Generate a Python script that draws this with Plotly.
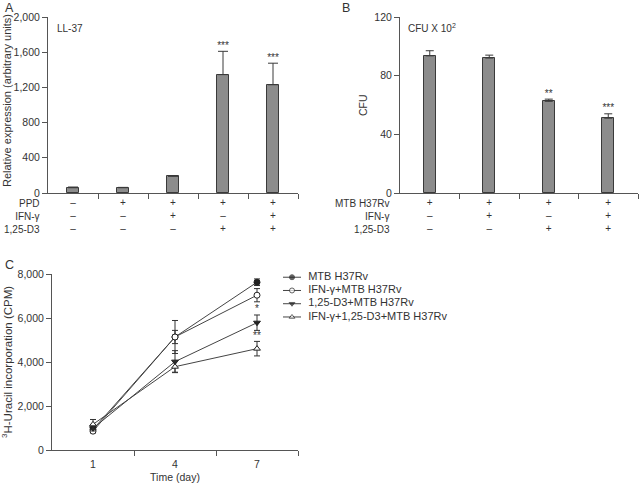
import plotly.graph_objects as go

W, H = 639, 484

# ---------------- Panel A data ----------------
a_values = [60, 60, 190, 1345, 1230]
a_errors = [8, 4, 4, 265, 245]
a_sig = ["", "", "", "***", "***"]
a_ppd = ["–", "+", "+", "+", "+"]
a_ifn = ["–", "–", "+", "–", "+"]
a_d3 = ["–", "–", "–", "+", "+"]
a_rows = ["PPD", "IFN-γ", "1,25-D3"]
a_yticks = [0, 400, 800, 1200, 1600, 2000]

# ---------------- Panel B data ----------------
b_values = [93.5, 92, 62.5, 51]
b_errors = [3.5, 2, 1.5, 3]
b_sig = ["", "", "**", "***"]
b_mtb = ["+", "+", "+", "+"]
b_ifn = ["–", "+", "–", "+"]
b_d3 = ["–", "–", "+", "+"]
b_rows = ["MTB H37Rv", "IFN-γ", "1,25-D3"]
b_yticks = [0, 40, 80, 120]

# ---------------- Panel C data ----------------
c_days = [1, 4, 7]
c_names = ["MTB H37Rv", "IFN-γ+MTB H37Rv", "1,25-D3+MTB H37Rv", "IFN-γ+1,25-D3+MTB H37Rv"]
c_mtb = [950, 5150, 7640]
c_mtb_err = [100, 750, 150]
c_ifn = [870, 5150, 7050]
c_ifn_err = [80, 300, 300]
c_d3 = [1000, 4030, 5800]
c_d3_err = [120, 500, 350]
c_ifn_d3 = [1180, 3800, 4620]
c_ifn_d3_err = [220, 250, 330]
c_sig = ["", "", "*", "**"]
c_yticks = [0, 2000, 4000, 6000, 8000]

TXT = "#333333"
LINE = "#555555"
BAR = "#8c8c8c"
BAR_LINE = "#3a3a3a"
FONT = "Liberation Sans, Arial, sans-serif"


def px_x(p):
    return p / W


def px_y(p):
    return 1 - p / H


def col_text(*rows):
    return ["<br>".join(r[i] for r in rows) for i in range(len(rows[0]))]


def nonempty(xs, ys, texts):
    keep = [i for i, t in enumerate(texts) if t]
    return [xs[i] for i in keep], [ys[i] for i in keep], [texts[i] for i in keep]


fig = go.Figure()

# ---- Panel A bars ----
a_x = list(range(len(a_values)))
fig.add_trace(go.Bar(
    x=a_x, y=a_values, width=0.24,
    marker=dict(color=BAR, line=dict(color=BAR_LINE, width=1)),
    error_y=dict(type="data", array=a_errors, arrayminus=[0] * len(a_errors),
                 symmetric=False, color=BAR_LINE, thickness=1, width=5),
    xaxis="x", yaxis="y", showlegend=False))
sx, sy, st = nonempty(a_x, [v + e for v, e in zip(a_values, a_errors)], a_sig)
fig.add_trace(go.Scatter(
    x=sx, y=sy, text=st, mode="text", textposition="top center", cliponaxis=False,
    textfont=dict(size=10, color=TXT), xaxis="x", yaxis="y", showlegend=False))

# ---- Panel B bars ----
b_x = list(range(len(b_values)))
fig.add_trace(go.Bar(
    x=b_x, y=b_values, width=0.2,
    marker=dict(color=BAR, line=dict(color=BAR_LINE, width=1)),
    error_y=dict(type="data", array=b_errors, arrayminus=[0] * len(b_errors),
                 symmetric=False, color=BAR_LINE, thickness=1, width=4),
    xaxis="x2", yaxis="y2", showlegend=False))
sx, sy, st = nonempty(b_x, [v + e for v, e in zip(b_values, b_errors)], b_sig)
fig.add_trace(go.Scatter(
    x=sx, y=sy, text=st, mode="text", textposition="top center", cliponaxis=False,
    textfont=dict(size=10, color=TXT), xaxis="x2", yaxis="y2", showlegend=False))

# ---- Panel C lines ----
c_series = [
    (c_mtb, c_mtb_err, dict(symbol="circle", color="#222222", size=6,
                            line=dict(color="#222222", width=1))),
    (c_ifn, c_ifn_err, dict(symbol="circle", color="white", size=6,
                            line=dict(color="#222222", width=1))),
    (c_d3, c_d3_err, dict(symbol="triangle-down", color="#222222", size=6,
                          line=dict(color="#222222", width=1))),
    (c_ifn_d3, c_ifn_d3_err, dict(symbol="triangle-up", color="white", size=6,
                                  line=dict(color="#222222", width=1))),
]
for name, (vals, errs, mk) in zip(c_names, c_series):
    fig.add_trace(go.Scatter(
        x=c_days, y=vals, name=name, mode="lines+markers",
        line=dict(color="#444444", width=1), marker=mk,
        error_y=dict(type="data", array=errs, color="#333333", thickness=1, width=3),
        xaxis="x3", yaxis="y3", showlegend=False))

# significance marks at day 7
last_tops = [s[0][-1] + s[1][-1] for s in c_series]
sx, sy, st = nonempty([c_days[-1]] * len(c_sig), last_tops, c_sig)
fig.add_trace(go.Scatter(
    x=sx, y=sy, text=st, mode="text", textposition="top center", cliponaxis=False,
    textfont=dict(size=10, color=TXT), xaxis="x3", yaxis="y3", showlegend=False))

# ---- custom compact legend for panel C ----
for i, (name, (vals, errs, mk)) in enumerate(zip(c_names, c_series)):
    m = dict(mk)
    m["size"] = [0, 5, 0]
    fig.add_trace(go.Scatter(
        x=[0, 0.5, 1], y=[i, i, i], mode="lines+markers",
        line=dict(color="#444444", width=1), marker=m,
        xaxis="x4", yaxis="y4", showlegend=False, hoverinfo="skip"))
fig.add_trace(go.Scatter(
    x=[1.4] * len(c_names), y=list(range(len(c_names))), text=c_names,
    mode="text", textposition="middle right", cliponaxis=False,
    textfont=dict(size=11, color=TXT), xaxis="x4", yaxis="y4",
    showlegend=False, hoverinfo="skip"))

axis_common = dict(showline=True, linecolor=LINE, linewidth=1, showgrid=False,
                   zeroline=False, tickfont=dict(size=10, color=TXT, family=FONT),
                   tickcolor=LINE)
ytick_font = dict(size=10.5, color=TXT, family=FONT)

fig.update_layout(
    width=W, height=H,
    margin=dict(l=0, r=0, t=0, b=0, autoexpand=False),
    paper_bgcolor="white", plot_bgcolor="white",
    font=dict(family=FONT, size=10, color=TXT),
    showlegend=False,
    bargap=0,
    xaxis=dict(axis_common, domain=[px_x(48), px_x(298)], range=[-0.5, 4.5],
               tickvals=a_x, ticktext=col_text(a_ppd, a_ifn, a_d3), ticks="",
               minor=dict(tickvals=[i + 0.5 for i in a_x], ticks="outside",
                          ticklen=5, tickcolor=LINE),
               anchor="y", ticklabelstandoff=0),
    yaxis=dict(axis_common, domain=[px_y(193), px_y(17)], range=[0, 2000],
               tickvals=a_yticks, tickformat=",", ticks="outside", ticklen=5,
               tickfont=ytick_font, anchor="x"),
    xaxis2=dict(axis_common, domain=[px_x(400), px_x(638)], range=[-0.5, 3.5],
                tickvals=b_x, ticktext=col_text(b_mtb, b_ifn, b_d3), ticks="",
                minor=dict(tickvals=[i + 0.5 for i in b_x], ticks="outside",
                           ticklen=5, tickcolor=LINE),
                anchor="y2", ticklabelstandoff=0),
    yaxis2=dict(axis_common, domain=[px_y(193), px_y(17)], range=[0, 120],
                tickvals=b_yticks, ticks="outside", ticklen=5, tickfont=ytick_font,
                anchor="x2"),
    xaxis3=dict(axis_common, domain=[px_x(52), px_x(298)], range=[-0.5, 8.5],
                tickvals=c_days, ticks="", tickfont=ytick_font,
                minor=dict(tickvals=[2.5, 5.5, 8.5], ticks="outside",
                           ticklen=5, tickcolor=LINE),
                anchor="y3", ticklabelstandoff=4,
                title=dict(text="Time (day)", font=dict(size=10.5, color=TXT), standoff=4)),
    yaxis3=dict(axis_common, domain=[px_y(450.3), px_y(274.3)], range=[0, 8000],
                tickvals=c_yticks, tickformat=",", ticks="outside", ticklen=5,
                tickfont=ytick_font, anchor="x3"),
    xaxis4=dict(domain=[px_x(283), px_x(319)], range=[0, 2], visible=False,
                fixedrange=True, anchor="y4"),
    yaxis4=dict(domain=[px_y(323.6), px_y(270.6)], range=[3.5, -0.5], visible=False,
                fixedrange=True, anchor="x4"),
)

ann = []
# panel letters
for letter, x, y in [("A", 3, -1), ("B", 340, -1), ("C", 3, 256)]:
    ann.append(dict(text=letter, x=px_x(x), y=px_y(y), xref="paper", yref="paper",
                    xanchor="left", yanchor="top", showarrow=False,
                    font=dict(size=12.5, color=TXT)))
# inner titles
ann.append(dict(text="LL-37", x=px_x(55), y=px_y(29), xref="paper", yref="paper",
                xanchor="left", yanchor="middle", showarrow=False, font=dict(size=10, color=TXT)))
ann.append(dict(text="CFU X 10<sup>2</sup>", x=px_x(406), y=px_y(28), xref="paper", yref="paper",
                xanchor="left", yanchor="middle", showarrow=False, font=dict(size=10, color=TXT)))
# y-axis titles
ann.append(dict(text="Relative expression (arbitrary units)", x=px_x(7), y=px_y(101),
                xref="paper", yref="paper", textangle=-90, xanchor="center", yanchor="middle",
                showarrow=False, font=dict(size=11, color=TXT)))
ann.append(dict(text="CFU", x=px_x(363), y=px_y(105),
                xref="paper", yref="paper", textangle=-90, xanchor="center", yanchor="middle",
                showarrow=False, font=dict(size=10.5, color=TXT)))
ann.append(dict(text="<sup>3</sup>H-Uracil incorporation (CPM)", x=px_x(7), y=px_y(362),
                xref="paper", yref="paper", textangle=-90, xanchor="center", yanchor="middle",
                showarrow=False, font=dict(size=11.5, color=TXT)))
# row labels below bar panels
for rows, xr in [(a_rows, 42), (b_rows, 392)]:
    ann.append(dict(text="<br>".join(rows), x=px_x(xr), y=px_y(196), xref="paper", yref="paper",
                    xanchor="right", yanchor="top", align="right", showarrow=False,
                    font=dict(size=10, color=TXT)))
fig.update_layout(annotations=ann)

fig.write_html("out.html", config={"displayModeBar": False},
               post_script="document.body.style.margin='0';")
